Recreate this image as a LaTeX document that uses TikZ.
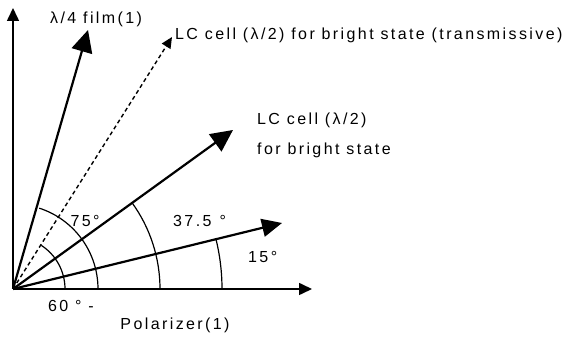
\documentclass[tikz,border=0pt]{standalone}
\usepackage{fontspec}
\setmainfont{Liberation Sans}[LetterSpace=15]
\usetikzlibrary{arrows.meta}
\begin{document}
\begin{tikzpicture}[x=1pt,y=1pt,
  lbl/.style={font=\fontsize{16}{18}\selectfont, inner sep=0pt},
  bigarrow/.style={line width=2.2pt, -{Triangle[length=22pt,width=21pt]}},
  axisarrow/.style={line width=1.6pt, -{Triangle[length=13pt,width=12pt]}},
  dasharrow/.style={line width=1.4pt, dash pattern=on 4pt off 3pt, -{Triangle[length=11pt,width=10pt]}},
  anglearc/.style={line width=1.2pt}]
\useasboundingbox (0,0) rectangle (566,340);
\coordinate (O) at (13,51);
\coordinate (X) at (312,51);
\coordinate (Y) at (13,332);
\coordinate (Q) at (88,310);
\coordinate (T) at (172,303);
\coordinate (B) at (233,210);
\coordinate (F) at (282,117);
% axes
\draw[axisarrow] (O) -- (X);
\draw[axisarrow] (O) -- (Y);
% arrows
\draw[bigarrow] (O) -- (Q);
\draw[dasharrow] (O) -- (T);
\draw[bigarrow] (O) -- (B);
\draw[line width=2.2pt, -{Triangle[length=20pt,width=18pt]}] (O) -- (F);
% arcs
\draw[anglearc] (O) ++(52,0) arc[start angle=0,end angle=57,radius=52];
\draw[anglearc] (O) ++(85,0) arc[start angle=0,end angle=72,radius=85];
\draw[anglearc] (O) ++(147,0) arc[start angle=0,end angle=36,radius=147];
\draw[anglearc] (O) ++(209,0) arc[start angle=0,end angle=14,radius=209];
% labels
\node[lbl, anchor=west] (lq) at (50,321) {λ/4 film(1)};
\node[lbl, anchor=west] (lt) at (175,305) {LC cell (λ/2) for bright state (transmissive)};
\node[lbl, anchor=west] (lb1) at (257,220) {LC cell (λ/2)};
\node[lbl, anchor=west] (lb2) at (257,190) {for bright state};
\node[lbl] (a75) at (85,119) {75°};
\node[lbl, anchor=west] (a37) at (173,119) {37.5\hspace{8pt}°};
\node[lbl, anchor=west] (a15) at (248,83) {15°};
\node[lbl, anchor=west] (a60) at (48,34) {60 ° -};
\node[lbl] (lp) at (175,15) {Polarizer(1)};
\end{tikzpicture}
\end{document}
